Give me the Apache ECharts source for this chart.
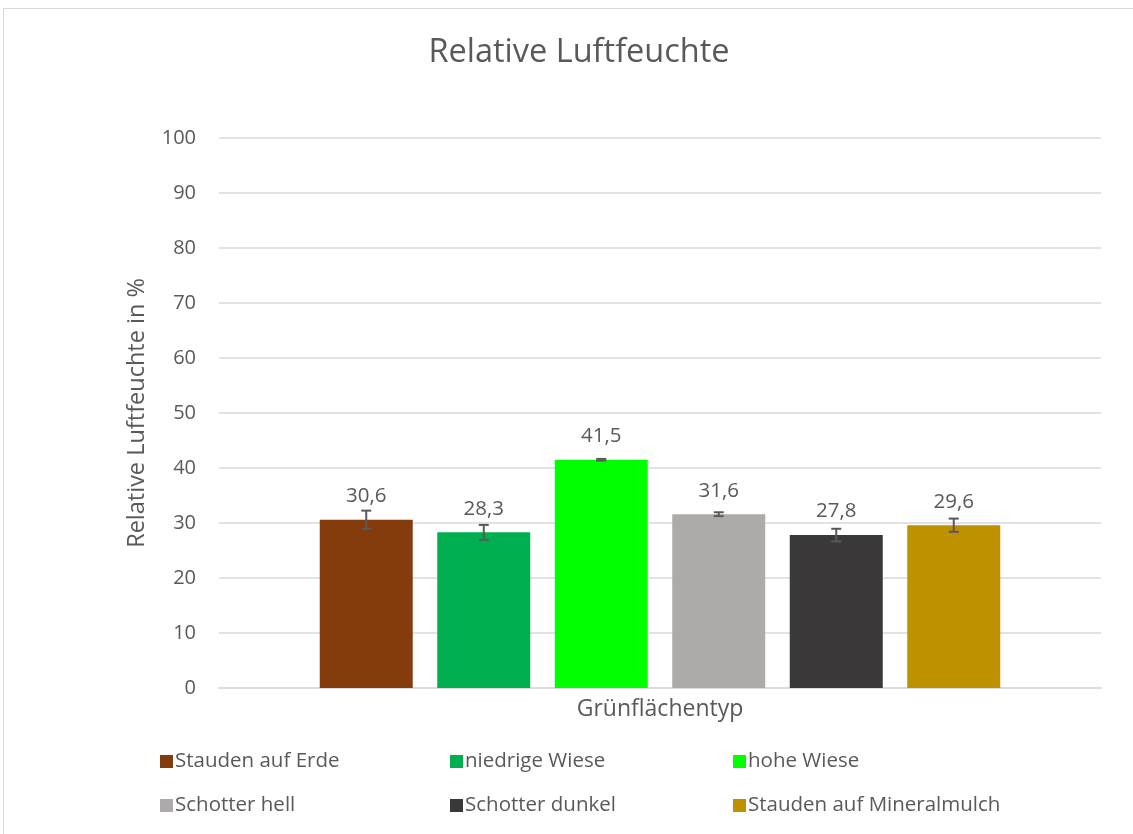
<!DOCTYPE html>
<html><head><meta charset="utf-8">
<script src="https://cdn.jsdelivr.net/npm/echarts@6/dist/echarts.min.js"></script>
<style>html,body{margin:0;padding:0;background:#fff}
#frame{position:absolute;left:3px;top:8px;width:1140px;height:840px;border-left:1px solid #d9d9d9;border-top:1px solid #d9d9d9}
#c{position:absolute;left:0;top:0;width:1133px;height:834px}</style>
</head><body><div id="frame"></div><div id="c"></div>
<script>
const category = ['Grünflächentyp'];
const seriesNames = ['Stauden auf Erde','niedrige Wiese','hohe Wiese','Schotter hell','Schotter dunkel','Stauden auf Mineralmulch'];
const seriesValues = [30.6, 28.3, 41.5, 31.6, 27.8, 29.6];
const errorValues = [1.65, 1.35, 0.15, 0.35, 1.15, 1.2];
const colors = ['#843C0C','#00B050','#00FF00','#AEAAAA','#3A3838','#BF9000'];
const yTicks = [0,10,20,30,40,50,60,70,80,90,100];

const FONT = 'Open Sans';
const TXT = '#595959';
const BAR_W = 93, GAP = 24.5;

const chart = echarts.init(document.getElementById('c'), null, {renderer:'canvas'});
const series = seriesNames.map((n,i)=>({
  name:n, type:'bar', data:[seriesValues[i]], barWidth:BAR_W, barGap:(GAP/BAR_W*100)+'%',
  itemStyle:{color:colors[i]},
  label:{show:true, position:'top', distance:13, color:TXT, fontFamily:FONT, fontSize:20.5,
    formatter:p=>String(p.value).replace('.',',')},
  z:2
}));
series.push({
  type:'custom', name:'err', z:5,
  data: seriesValues.map((v,i)=>[0, v-errorValues[i], v+errorValues[i], i]),
  renderItem:(params, api)=>{
    const idx = api.value(3);
    const c = api.coord([0, api.value(1)]);
    const hi = api.coord([0, api.value(2)]);
    const x = c[0] + (idx - (seriesValues.length-1)/2)*(BAR_W+GAP);
    const cap = 5;
    const st = {stroke:'#595959', lineWidth:2, fill:null};
    return {type:'group', children:[
      {type:'line', shape:{x1:x,y1:c[1],x2:x,y2:hi[1]}, style:st},
      {type:'line', shape:{x1:x-cap,y1:c[1],x2:x+cap,y2:c[1]}, style:st},
      {type:'line', shape:{x1:x-cap,y1:hi[1],x2:x+cap,y2:hi[1]}, style:st}
    ]};
  },
  tooltip:{show:false}
});

const legendPos = [[155,746],[445,746],[728,746],[155,790],[445,790],[728,790]];
const legends = seriesNames.map((n,i)=>({
  data:[n], left:legendPos[i][0], top:legendPos[i][1], itemWidth:13, itemHeight:13, itemGap:0,
  icon:'rect', textStyle:{color:TXT, fontFamily:FONT, fontSize:20.5, padding:[0,0,0,-3]}, selectedMode:false
}));

chart.setOption({
  animation:false,
  textStyle:{fontFamily:FONT},
  title:{text:'Relative Luftfeuchte', top:31, textStyle:{color:TXT, fontFamily:FONT, fontWeight:'normal', fontSize:32.5}, left:574, textAlign:'center'},
  legend:legends,
  grid:{left:219, right:32, top:138, bottom:146, containLabel:false},
  xAxis:{type:'category', data:category, axisLabel:{show:false}, axisTick:{show:false},
    axisLine:{lineStyle:{color:'#d9d9d9', width:1.5}},
    name:'Grünflächentyp', nameLocation:'middle', nameGap:10,
    nameTextStyle:{color:TXT, fontFamily:FONT, fontSize:23, verticalAlign:'top'}},
  yAxis:{type:'value', min:0, max:100, interval:10,
    axisLabel:{color:TXT, fontFamily:FONT, fontSize:20, margin:23},
    splitLine:{lineStyle:{color:'#d9d9d9', width:1.5}},
    axisLine:{show:false}, axisTick:{show:false},
    name:'Relative Luftfeuchte in %', nameLocation:'middle', nameGap:82, nameRotate:90,
    nameTextStyle:{color:TXT, fontFamily:FONT, fontSize:23.5, verticalAlign:'middle'}},
  series:series
});
</script></body></html>
